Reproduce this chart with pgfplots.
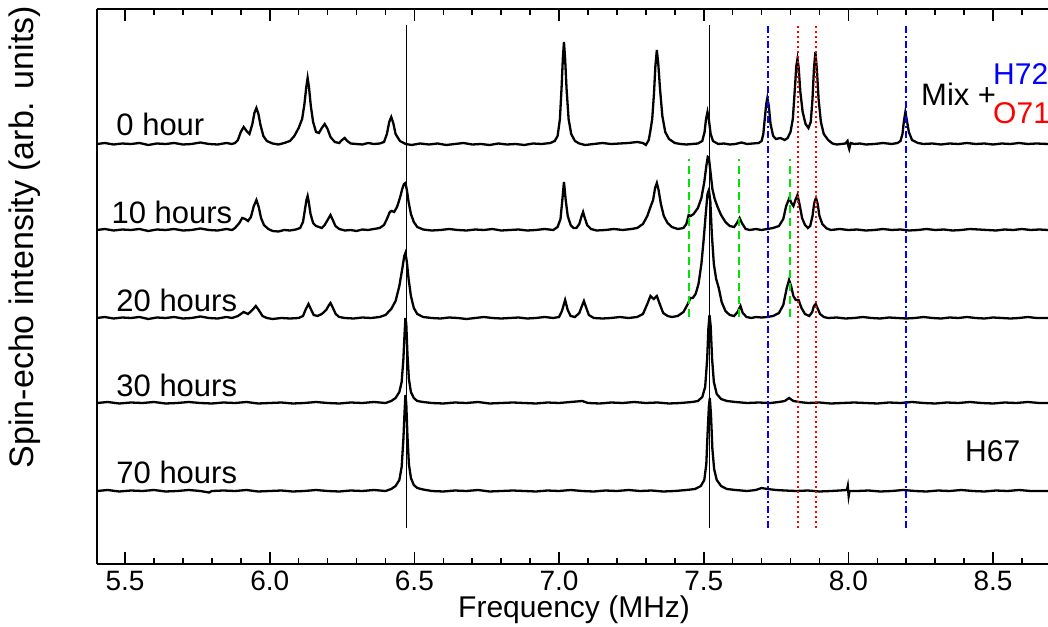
\documentclass[border=0pt]{standalone}
\usepackage{fontspec}
\setmainfont{Liberation Sans}
\usepackage{pgfplots}
\pgfplotsset{compat=1.18}
\definecolor{refblue}{RGB}{0,0,255}
\definecolor{refred}{RGB}{255,0,0}
\definecolor{refgreen}{RGB}{0,230,0}
\begin{document}
\begin{tikzpicture}
\begin{axis}[
  at={(0,0)}, anchor=south west, scale only axis,
  width=951pt, height=555pt,
  xmin=5.403, xmax=8.69, ymin=0, ymax=555,
  axis x line*=box, axis y line*=left,
  axis line style={line width=2pt},
  clip=false,
  xtick={5.5,6.0,6.5,7.0,7.5,8.0,8.5},
  minor xtick={5.6,5.7,5.8,5.9,6.1,6.2,6.3,6.4,6.6,6.7,6.8,6.9,7.1,7.2,7.3,7.4,7.6,7.7,7.8,7.9,8.1,8.2,8.3,8.4,8.6},
  ytick=\empty,
  minor ytick={61.67,123.33,185,246.67,308.33,370,431.67,493.33},
  tick align=inside,
  major tick length=12pt, minor tick length=6pt,
  every tick/.style={line width=1.6pt, black},
  xticklabel style={/pgf/number format/fixed, /pgf/number format/precision=1, /pgf/number format/fixed zerofill, font=\fontsize{28}{28}\selectfont, inner sep=0pt, anchor=north, yshift=-7pt},
  /pgf/number format/assume math mode=true,
]
% spectra
\addplot[black, line width=2.3pt] coordinates {
(5.403,420) (5.43,421) (5.46,419.5) (5.49,420.5) (5.52,420) (5.55,421) (5.58,419) (5.61,420.5) (5.64,420) (5.67,421) (5.70,419.5) (5.73,420) (5.76,421.5) (5.79,420) (5.82,419.5) (5.85,421) (5.87,420)
(5.88,421) (5.89,424) (5.90,432) (5.91,437) (5.92,433) (5.93,430) (5.94,440) (5.947,451) (5.954,456) (5.961,450) (5.968,439) (5.978,428) (5.99,423) (6.01,420.5) (6.03,419.5) (6.05,421) (6.07,423) (6.085,428) (6.10,436) (6.112,445) (6.12,460) (6.126,476) (6.131,486) (6.136,476) (6.142,458) (6.15,442) (6.16,432) (6.17,431) (6.18,436) (6.19,440) (6.20,435) (6.21,427) (6.225,422) (6.24,421) (6.25,424) (6.259,426) (6.268,423) (6.28,420.5) (6.30,420) (6.32,419.5) (6.34,421) (6.36,420) (6.38,420.5) (6.395,422) (6.405,430) (6.413,442) (6.42,447) (6.427,441) (6.435,430) (6.45,423) (6.47,420) (6.49,419) (6.52,420.5)
(6.55,419.5) (6.58,420.5) (6.61,419) (6.64,420) (6.67,421) (6.70,419.5) (6.73,420) (6.76,419) (6.79,420.5) (6.82,419.5) (6.85,420) (6.88,419) (6.91,420.5) (6.94,420) (6.97,421) (6.985,423)
(6.995,428) (7.003,445) (7.009,478) (7.013,505) (7.017,522) (7.021,505) (7.026,475) (7.033,445) (7.042,430) (7.055,423) (7.07,420.5) (7.09,419) (7.12,420) (7.15,421) (7.18,420) (7.21,420.5) (7.24,421) (7.27,422) (7.29,421) (7.30,419) (7.31,424)
(7.315,432) (7.322,445) (7.328,470) (7.333,498) (7.338,514) (7.343,500) (7.349,475) (7.357,448) (7.367,432) (7.38,425) (7.40,421) (7.42,420) (7.44,419.5) (7.46,420) (7.48,420.5) (7.495,423)
(7.503,432) (7.508,445) (7.513,452) (7.518,444) (7.524,430) (7.532,423) (7.55,420) (7.57,420.5) (7.59,419.5) (7.61,420) (7.63,421.5) (7.65,420) (7.67,420.5) (7.69,421) (7.70,423)
(7.706,430) (7.712,448) (7.716,460) (7.72,466) (7.725,458) (7.731,440) (7.74,428) (7.75,425) (7.765,426) (7.78,424) (7.79,426) (7.80,432)
(7.808,445) (7.815,475) (7.82,498) (7.824,505) (7.828,497) (7.834,472) (7.842,452) (7.852,440) (7.862,436) (7.870,442)
(7.876,465) (7.881,495) (7.886,512) (7.891,495) (7.897,465) (7.905,442) (7.915,430) (7.93,424) (7.945,420.5) (7.96,419.5) (7.975,420) (7.99,420.5) (7.997,423) (8.000,418) (8.003,415) (8.008,421) (8.02,420) (8.04,420.5) (8.06,419.5) (8.09,420) (8.12,421) (8.15,420) (8.17,421) (8.18,423)
(8.187,430) (8.192,443) (8.197,452) (8.202,444) (8.209,432) (8.22,424) (8.24,421) (8.26,420) (8.29,420.5) (8.32,419.5) (8.35,420.5) (8.38,420) (8.41,421) (8.44,420) (8.47,420.5) (8.50,419.5) (8.53,420.5) (8.56,420) (8.59,421) (8.62,420) (8.65,420.5) (8.69,420)
};
\addplot[black, line width=2.3pt] coordinates {
(5.403,334) (5.43,335) (5.46,333.5) (5.49,334.5) (5.52,334) (5.55,335) (5.58,333) (5.61,334.5) (5.64,334) (5.67,335) (5.70,333.5) (5.73,334) (5.76,335.5) (5.79,334) (5.82,333.5) (5.85,335) (5.87,334)
(5.88,336) (5.895,341) (5.905,346) (5.915,345) (5.925,343) (5.935,347) (5.945,358) (5.954,364) (5.962,357) (5.97,346) (5.98,339) (5.995,335) (6.01,333) (6.03,332.5) (6.05,334) (6.07,333.5) (6.09,334.5) (6.105,336) (6.115,342) (6.122,355) (6.127,364) (6.131,368) (6.135,362) (6.141,350) (6.15,341) (6.16,338) (6.17,337) (6.18,336) (6.19,339) (6.2,344) (6.21,349) (6.218,344) (6.227,338) (6.24,335) (6.26,333.5) (6.28,334) (6.30,333) (6.32,334.5) (6.34,334) (6.36,335) (6.38,336) (6.395,339) (6.405,345) (6.415,352) (6.422,353) (6.43,352) (6.44,357) (6.45,366) (6.458,375) (6.464,380) (6.469,381) (6.474,374) (6.48,362) (6.488,350) (6.498,342) (6.51,337) (6.53,334.5) (6.56,333.5) (6.59,334)
(6.62,335) (6.65,334) (6.68,333.5) (6.71,334.5) (6.74,334) (6.77,335) (6.80,333.5) (6.83,334) (6.86,334.5) (6.89,333.5) (6.92,334) (6.95,335) (6.98,334) (6.995,337)
(7.005,345) (7.011,363) (7.017,382) (7.023,364) (7.03,348) (7.04,339) (7.05,336) (7.06,336) (7.07,340) (7.077,347) (7.083,352) (7.089,346) (7.097,339) (7.11,335) (7.13,333.5) (7.16,334) (7.19,335) (7.22,334) (7.25,335) (7.27,336) (7.29,340) (7.305,348) (7.316,357) (7.325,364) (7.332,376) (7.338,381) (7.344,374) (7.352,360) (7.362,348) (7.375,341) (7.39,337) (7.41,335) (7.43,336) (7.44,340) (7.448,349) (7.455,348) (7.465,350) (7.48,356) (7.492,366) (7.502,382) (7.509,398) (7.514,407) (7.518,406) (7.523,393) (7.53,375) (7.538,365) (7.548,357) (7.56,349) (7.575,342) (7.59,338) (7.605,337) (7.615,341) (7.624,346) (7.632,341) (7.645,335) (7.66,334) (7.68,335) (7.70,334) (7.72,335) (7.74,336) (7.76,338) (7.775,345) (7.785,358) (7.796,366) (7.803,361) (7.81,358) (7.817,364) (7.824,369) (7.831,360) (7.84,346) (7.85,339) (7.86,336) (7.868,338) (7.876,348) (7.882,361) (7.888,366) (7.894,360) (7.90,348) (7.91,340) (7.925,335.5) (7.94,334) (7.97,335) (8.00,334) (8.03,334.5) (8.06,333.5) (8.09,334) (8.12,335) (8.15,334) (8.18,334.5) (8.21,333.5) (8.24,334) (8.27,335) (8.30,334) (8.33,334.5) (8.36,333.5) (8.39,334) (8.42,335) (8.45,334.5) (8.48,334) (8.51,333.5) (8.54,334.5) (8.57,334) (8.60,335) (8.63,334) (8.66,334.5) (8.69,334)
};
\addplot[black, line width=2.3pt] coordinates {
(5.403,246) (5.43,247) (5.46,245.5) (5.49,246.5) (5.52,246) (5.55,247) (5.58,245) (5.61,246.5) (5.64,246) (5.67,247) (5.70,245.5) (5.73,246) (5.76,247.5) (5.79,246) (5.82,245.5) (5.85,247) (5.87,246) (5.89,248) (5.91,252) (5.925,250) (5.94,254) (5.952,258) (5.962,254) (5.975,248) (5.99,246) (6.01,245) (6.04,246) (6.07,245.5) (6.10,246) (6.115,248) (6.125,255) (6.134,260) (6.142,255) (6.152,249) (6.165,248) (6.18,250) (6.195,254) (6.205,259) (6.21,261) (6.217,257) (6.228,250) (6.24,247) (6.26,246) (6.29,245.5) (6.32,246.5) (6.35,246) (6.38,247) (6.40,249) (6.42,255) (6.435,263) (6.448,278) (6.458,295) (6.465,308) (6.469,311) (6.474,302) (6.48,285) (6.488,268) (6.498,256) (6.51,250) (6.53,247) (6.56,246) (6.59,245.5) (6.62,246.5) (6.65,246) (6.68,245) (6.71,246) (6.74,247) (6.77,246) (6.80,245.5) (6.83,246) (6.86,246.5) (6.89,245.5) (6.92,246) (6.95,247) (6.98,246) (7.00,247) (7.01,253) (7.021,264) (7.03,254) (7.04,248) (7.055,247) (7.07,251) (7.079,258) (7.086,263) (7.093,257) (7.103,249) (7.12,246) (7.15,245.5) (7.18,246) (7.21,247) (7.24,246) (7.27,247) (7.29,250) (7.305,260) (7.316,268) (7.327,265) (7.338,268) (7.348,260) (7.36,251) (7.375,248) (7.39,247) (7.41,248) (7.43,252) (7.445,260) (7.454,266) (7.462,266) (7.472,270) (7.482,280) (7.492,300) (7.5,325) (7.507,350) (7.513,370) (7.518,374) (7.523,362) (7.528,330) (7.535,300) (7.543,285) (7.552,276) (7.562,262) (7.575,253) (7.59,249) (7.605,248) (7.617,252) (7.627,258) (7.635,251) (7.648,247) (7.665,246) (7.68,247) (7.70,246.5) (7.72,247) (7.74,248) (7.76,251) (7.775,259) (7.787,276) (7.795,284) (7.802,278) (7.81,268) (7.818,264) (7.828,264) (7.838,256) (7.85,250) (7.865,248) (7.875,252) (7.881,258) (7.887,260) (7.893,256) (7.902,250) (7.915,247) (7.93,246) (7.96,246.5) (7.99,245.5) (8.02,246) (8.05,247) (8.08,246) (8.11,245.5) (8.14,246.5) (8.17,246) (8.20,245.5) (8.23,246) (8.26,247) (8.29,246) (8.32,245.5) (8.35,246.5) (8.38,246) (8.41,247) (8.44,246) (8.47,245.5) (8.50,246.5) (8.53,246) (8.56,245.5) (8.59,246) (8.62,247) (8.65,246) (8.69,246)
};
\addplot[black, line width=2.3pt] coordinates {
(5.403,161) (5.44,162) (5.48,160.5) (5.52,161.5) (5.56,161) (5.60,162) (5.64,160.5) (5.68,161) (5.72,162) (5.76,161) (5.80,160.5) (5.84,161.5) (5.88,161) (5.92,162) (5.96,160.5) (6.00,161) (6.04,161.5) (6.08,160.5) (6.12,161) (6.16,162) (6.20,161) (6.24,160.5) (6.28,161.5) (6.32,161) (6.36,162) (6.40,161) (6.42,163) (6.435,166) (6.448,172) (6.456,182) (6.462,205) (6.466,230) (6.469,246) (6.472,240) (6.476,210) (6.481,185) (6.488,172) (6.498,166) (6.51,163) (6.53,162) (6.56,161) (6.60,160.5) (6.64,161.5) (6.68,161) (6.72,162) (6.76,160.5) (6.80,161) (6.84,161.5) (6.88,161) (6.92,160.5) (6.96,161.5) (7.00,161) (7.04,162) (7.08,163) (7.10,161) (7.14,160.5) (7.18,161.5) (7.22,161) (7.26,162) (7.30,161) (7.34,161.5) (7.38,160.5) (7.42,161) (7.46,162) (7.48,163) (7.495,167) (7.505,177) (7.512,205) (7.516,235) (7.52,249) (7.524,238) (7.529,205) (7.535,182) (7.545,170) (7.56,165) (7.58,163) (7.61,162) (7.65,161) (7.69,161.5) (7.73,161) (7.76,162) (7.78,163) (7.795,166) (7.81,163) (7.83,162) (7.86,161) (7.90,161.5) (7.94,160.5) (7.98,161) (8.02,161.5) (8.06,161) (8.10,160.5) (8.14,161.5) (8.18,161) (8.22,162) (8.26,161) (8.30,160.5) (8.34,161.5) (8.38,161) (8.42,162) (8.46,161) (8.50,160.5) (8.54,161.5) (8.58,161) (8.62,162) (8.66,161) (8.69,161)
};
\addplot[black, line width=2.3pt] coordinates {
(5.403,73) (5.44,74) (5.48,72.5) (5.52,73.5) (5.56,73) (5.60,74) (5.64,72.5) (5.68,73) (5.72,74) (5.76,73) (5.79,71.5) (5.80,73) (5.84,73.5) (5.88,73) (5.92,74) (5.96,72.5) (6.00,73) (6.04,73.5) (6.08,72.5) (6.12,73) (6.16,74) (6.20,73) (6.24,72.5) (6.28,73.5) (6.32,73) (6.36,74) (6.40,73) (6.42,75) (6.435,78) (6.448,84) (6.456,97) (6.462,125) (6.466,152) (6.469,169) (6.472,160) (6.476,128) (6.481,100) (6.488,86) (6.498,79) (6.51,76) (6.53,74.5) (6.56,73) (6.60,72.5) (6.64,73.5) (6.68,73) (6.72,74) (6.76,72.5) (6.80,73) (6.84,73.5) (6.88,73) (6.92,72.5) (6.96,73.5) (7.00,73) (7.04,74) (7.08,73) (7.12,72.5) (7.16,73.5) (7.20,73) (7.24,74) (7.28,73) (7.32,73.5) (7.36,72.5) (7.40,73) (7.44,74) (7.47,75) (7.49,78) (7.502,84) (7.509,100) (7.514,135) (7.518,158) (7.521,166) (7.525,150) (7.53,115) (7.536,95) (7.545,84) (7.56,78) (7.58,75) (7.61,74) (7.65,73) (7.68,74) (7.70,76) (7.72,75) (7.75,74) (7.78,73.5) (7.82,73) (7.86,73.5) (7.90,72.5) (7.94,73) (7.97,73.5) (7.995,74) (7.998,78) (8.001,68) (8.004,73) (8.03,73) (8.07,73.5) (8.11,72.5) (8.15,73) (8.19,74) (8.23,73) (8.27,72.5) (8.31,73.5) (8.35,73) (8.39,74) (8.43,73) (8.47,72.5) (8.51,73.5) (8.55,73) (8.59,74) (8.63,73) (8.69,73)
};
% reference lines
\addplot[black, line width=1.4pt] coordinates {(6.472,36) (6.472,539)};
\addplot[black, line width=1.4pt] coordinates {(7.521,36) (7.521,539)};
\addplot[refblue, line width=2pt, dash pattern=on 7pt off 3pt on 2pt off 3pt] coordinates {(7.722,36) (7.722,539)};
\addplot[refblue, line width=2pt, dash pattern=on 7pt off 3pt on 2pt off 3pt] coordinates {(8.198,36) (8.198,539)};
\addplot[refred, line width=2pt, dash pattern=on 2pt off 3pt] coordinates {(7.825,36) (7.825,539)};
\addplot[refred, line width=2pt, dash pattern=on 2pt off 3pt] coordinates {(7.888,36) (7.888,539)};
\addplot[refgreen, line width=2pt, dash pattern=on 8pt off 5pt] coordinates {(7.448,247) (7.448,405)};
\addplot[refgreen, line width=2pt, dash pattern=on 8pt off 5pt] coordinates {(7.622,247) (7.622,405)};
\addplot[refgreen, line width=2pt, dash pattern=on 8pt off 5pt] coordinates {(7.798,247) (7.798,405)};
% labels
\node[anchor=west, font=\fontsize{31}{31}\selectfont] at (axis cs:5.458,440) {0 hour};
\node[anchor=west, font=\fontsize{31}{31}\selectfont] at (axis cs:5.441,352) {10 hours};
\node[anchor=west, font=\fontsize{31}{31}\selectfont] at (axis cs:5.458,264) {20 hours};
\node[anchor=west, font=\fontsize{31}{31}\selectfont] at (axis cs:5.458,179) {30 hours};
\node[anchor=west, font=\fontsize{31}{31}\selectfont] at (axis cs:5.458,92) {70 hours};
\node[anchor=west, inner sep=0pt, font=\fontsize{31}{31}\selectfont] at (axis cs:8.251,470) {Mix +};
\node[anchor=west, inner sep=0pt, font=\fontsize{30}{30}\selectfont, text=refblue] at (axis cs:8.5,490) {H72};
\node[anchor=west, inner sep=0pt, font=\fontsize{30}{30}\selectfont, text=refred] at (axis cs:8.5,451) {O71};
\node[anchor=west, inner sep=0pt, font=\fontsize{30}{30}\selectfont] at (axis cs:8.403,113) {H67};
\node[inner sep=0pt, font=\fontsize{30}{30}\selectfont] at (axis cs:7.052,-46) {Frequency (MHz)};
\node[rotate=90, font=\fontsize{34}{34}\selectfont] at (axis cs:5.403,327) [yshift=72pt] {Spin-echo intensity (arb. units)};
\end{axis}
\pgfresetboundingbox
\useasboundingbox (-97pt,-62pt) rectangle (951pt,564pt);
\end{tikzpicture}
\end{document}
